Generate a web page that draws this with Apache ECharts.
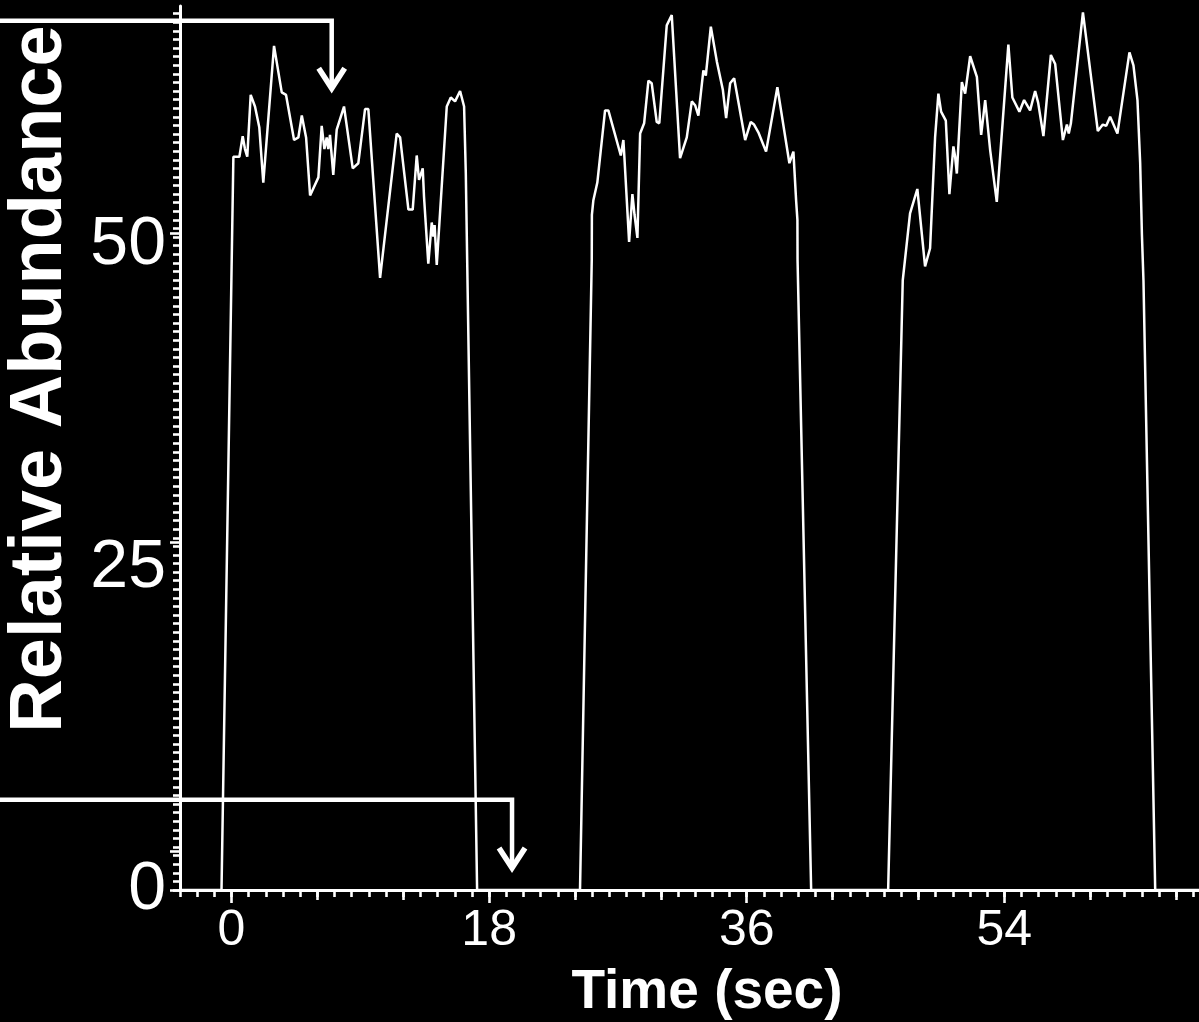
<!DOCTYPE html>
<html>
<head>
<meta charset="utf-8">
<script src="https://cdn.jsdelivr.net/npm/echarts@6/dist/echarts.min.js"></script>
<style>
  html, body { margin: 0; padding: 0; background: #000; }
  #chart { width: 1199px; height: 1022px; }
</style>
</head>
<body>
<div id="chart"></div>
<script>
// Ion trace: time (s) and relative abundance (%) for three consecutive pulses
const timeSec = [
  -3.6, -0.70,
  0.13, 0.55, 0.78, 0.94, 1.10, 1.34, 1.64, 1.94, 2.22, 2.97, 3.51, 3.81, 4.37, 4.67,
  4.91, 5.21, 5.49, 6.07, 6.30, 6.49, 6.65, 6.76, 6.88, 7.11, 7.35, 7.86, 8.47, 8.86,
  9.33, 9.56, 10.38, 10.50, 11.54, 11.78, 12.36, 12.66, 12.94, 13.10, 13.36, 13.45,
  13.75, 13.99, 14.10, 14.19, 14.34, 15.04, 15.32, 15.62, 15.97, 16.25, 16.37, 17.16,
  24.35, 25.17, 25.18, 25.28, 25.56, 26.10, 26.33, 27.20, 27.38, 27.45, 27.78, 28.01,
  28.16, 28.36, 28.55, 28.83, 29.13, 29.36, 29.71, 29.89, 30.41, 30.76, 31.34, 31.81,
  32.16, 32.39, 32.62, 32.97, 33.14, 33.49, 33.91, 34.33, 34.56, 34.84, 35.12, 35.89,
  36.28, 36.51, 36.81, 37.35, 38.14, 38.98, 39.26, 39.45, 39.54, 39.55, 40.50,
  45.88, 46.90, 47.41, 47.92, 48.46, 48.81, 49.16, 49.39, 49.58, 49.91, 50.16, 50.44,
  50.56, 50.68, 51.03, 51.26, 51.61, 52.08, 52.38, 52.66, 53.01, 53.47, 54.28, 54.56,
  55.05, 55.38, 55.80, 56.15, 56.36, 56.73, 57.25, 57.55, 58.09, 58.37, 58.50, 58.65,
  59.49, 60.53, 60.88, 61.12, 61.39, 61.90, 62.74, 63.02, 63.30, 63.49, 63.61, 63.72,
  64.54, 67.6
];
const abundance = [
  0, 0,
  56.9, 56.9, 58.5, 57.5, 56.9, 61.7, 60.8, 59.2, 54.9, 65.5, 61.9, 61.7, 58.2, 58.4,
  60.1, 58.4, 53.9, 55.3, 59.3, 57.5, 58.4, 57.5, 58.6, 55.5, 59.0, 60.8, 56.0, 56.4,
  60.6, 60.6, 47.5, 47.5, 58.7, 58.4, 52.8, 52.8, 57.0, 55.1, 56.0, 53.8,
  48.6, 51.8, 50.7, 51.6, 48.5, 60.8, 61.5, 61.2, 62.0, 60.8, 55.6, 0,
  0, 48.9, 52.4, 53.5, 54.9, 60.5, 60.5, 57.0, 58.2, 56.9, 50.3, 54.0,
  52.4, 50.6, 58.7, 59.5, 62.8, 62.6, 59.6, 59.5, 67.1, 67.9, 56.8, 58.4,
  61.2, 60.9, 60.1, 63.6, 63.2, 67.0, 64.3, 62.1, 59.9, 62.6, 63.0, 58.2,
  59.6, 59.4, 58.8, 57.3, 62.3, 56.4, 57.3, 53.5, 52.0, 48.9, 0,
  0, 47.3, 52.5, 54.4, 48.4, 49.8, 58.4, 61.8, 60.4, 59.7, 54.0, 57.7,
  56.9, 55.6, 62.7, 61.8, 64.7, 63.1, 58.6, 61.3, 57.4, 53.4, 65.6, 61.5,
  60.4, 61.3, 60.5, 62.0, 61.1, 58.5, 64.8, 64.1, 58.2, 59.4, 58.7, 59.5,
  68.1, 58.9, 59.4, 59.3, 60.0, 58.7, 65.0, 64.0, 61.3, 56.4, 50.9, 47.3,
  0, 0
];

// Axis ranges and tick marks
const timeRange = [-3.6, 67.6];
const abundanceRange = [0, 68.6];
const timeLabelTicks = [0, 18, 36, 54];
const timeMidTicks = [6, 12, 24, 30, 42, 48, 60, 66];
const timeMinorStep = 1.2;
const abundanceLabelTicks = [0, 25, 50];
const abundanceMidTicks = [0, 3, 27, 51];
const abundanceMinorStep = 2 / 3;

// Annotation arrows: [time, level of the horizontal leader, level of the tip]
const arrowTimes = [7.0, 19.6];
const arrowLeaderLevels = [67.45, 7.0];
const arrowTipLevels = [61.9, 1.4];

const xTitle = 'Time (sec)';
const yTitle = 'Relative Abundance';

function stepTicks(from, to, step) {
  const out = [];
  const n = Math.floor((to - from) / step + 1e-6);
  for (let i = 0; i <= n; i++) out.push(+(from + i * step).toFixed(4));
  return out;
}

const FONT = '"Liberation Sans", Arial, Helvetica, sans-serif';
const WHITE = '#ffffff';

const series = [{
  type: 'line',
  data: timeSec.map((t, i) => [t, abundance[i]]),
  showSymbol: false,
  symbol: 'none',
  lineStyle: { color: WHITE, width: 2.5 },
  clip: false,
  animation: false,
  z: 5
}];

// Each tick size sits on its own stacked axis that shares the same range
function xAxisLayer(ticks, len, opts) {
  return Object.assign({
    type: 'value',
    position: 'bottom',
    min: timeRange[0],
    max: timeRange[1],
    axisLine: { show: false, onZero: false },
    splitLine: { show: false },
    axisTick: { show: true, customValues: ticks, length: len, lineStyle: { color: WHITE, width: 2.6 } },
    axisLabel: { show: false }
  }, opts || {});
}
function yAxisLayer(ticks, len, opts) {
  return Object.assign({
    type: 'value',
    position: 'left',
    min: abundanceRange[0],
    max: abundanceRange[1],
    axisLine: { show: false, onZero: false },
    splitLine: { show: false },
    axisTick: { show: true, customValues: ticks, length: len, lineStyle: { color: WHITE, width: 2.6 } },
    axisLabel: { show: false }
  }, opts || {});
}

const option = {
  backgroundColor: '#000000',
  animation: false,
  grid: { left: 180, right: 0, top: 6, bottom: 132, containLabel: false },
  xAxis: [
    xAxisLayer(stepTicks(timeRange[0], timeRange[1], timeMinorStep), 7, {
      axisLine: { show: true, onZero: false, lineStyle: { color: WHITE, width: 3 } }
    }),
    xAxisLayer(timeMidTicks, 10),
    xAxisLayer(timeLabelTicks, 13, {
      axisLabel: {
        show: true, customValues: timeLabelTicks, color: WHITE,
        fontFamily: FONT, fontSize: 50, margin: 16
      }
    })
  ],
  yAxis: [
    yAxisLayer(stepTicks(abundanceRange[0], abundanceRange[1], abundanceMinorStep), 7, {
      axisLine: { show: true, onZero: false, lineStyle: { color: WHITE, width: 3 } },
      axisLabel: {
        show: true, customValues: abundanceLabelTicks, color: WHITE,
        fontFamily: FONT, fontSize: 68, margin: 14
      }
    }),
    yAxisLayer(abundanceMidTicks, 10)
  ],
  series: series
};

const chart = echarts.init(document.getElementById('chart'), null, { renderer: 'canvas' });
chart.setOption(option);

// Axis titles and the two annotation arrows, placed through the chart's scales
function buildGraphics() {
  const els = [];
  els.push({
    type: 'text', x: 41, y: 379, rotation: Math.PI / 2, z: 10,
    style: { text: yTitle, fill: WHITE, font: 'bold 74px ' + FONT, textAlign: 'center', textVerticalAlign: 'middle' }
  });
  els.push({
    type: 'text', x: 707, y: 993, z: 10,
    style: { text: xTitle, fill: WHITE, font: 'bold 55px ' + FONT, textAlign: 'center', textVerticalAlign: 'middle' }
  });
  arrowTimes.forEach((t, i) => {
    const lead = chart.convertToPixel({ xAxisIndex: 0, yAxisIndex: 0 }, [t, arrowLeaderLevels[i]]);
    const tip = chart.convertToPixel({ xAxisIndex: 0, yAxisIndex: 0 }, [t, arrowTipLevels[i]]);
    els.push({
      type: 'polyline', z: 10,
      shape: { points: [[0, lead[1]], [lead[0], lead[1]], [tip[0], tip[1] - 4]] },
      style: { stroke: WHITE, lineWidth: 4.5, fill: null, lineJoin: 'miter', lineCap: 'butt' }
    });
    els.push({
      type: 'polyline', z: 10,
      shape: { points: [[tip[0] - 13, tip[1] - 24], [tip[0], tip[1] - 4], [tip[0] + 13, tip[1] - 24]] },
      style: { stroke: WHITE, lineWidth: 5.5, fill: null, lineJoin: 'miter', miterLimit: 10, lineCap: 'butt' }
    });
  });
  return els;
}
chart.setOption({ graphic: buildGraphics() });
</script>
</body>
</html>
